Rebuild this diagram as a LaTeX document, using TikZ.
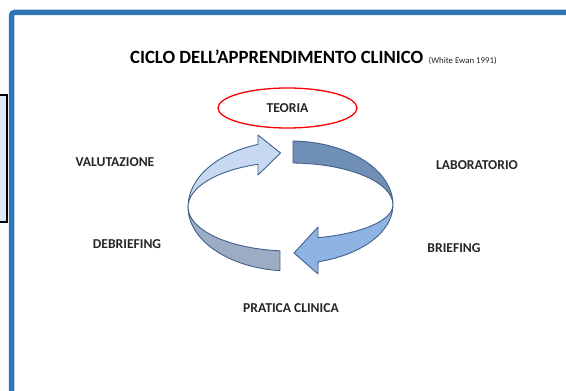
\documentclass[tikz,border=0pt]{standalone}
\usepackage{fontspec}
\setmainfont{Carlito}
\usetikzlibrary{shapes.geometric}
\definecolor{frameblue}{HTML}{2E75B6}
\definecolor{boxfill}{HTML}{DEEBF7}
\definecolor{edgeblue}{HTML}{41618C}
\definecolor{lightpiece}{HTML}{C6D9F1}
\definecolor{darkpiece}{HTML}{6F8FB6}
\definecolor{bluepiece}{HTML}{8EB4E3}
\definecolor{graypiece}{HTML}{9CACC2}
\definecolor{labelgray}{HTML}{262626}
\tikzset{
  lbl/.style={font=\fontsize{13.6}{15}\selectfont\bfseries, text=labelgray, inner sep=0pt},
  piece/.style={draw=edgeblue, line width=0.9pt, line join=round},
}
\begin{document}
\begin{tikzpicture}[x=1pt,y=1pt]
\useasboundingbox (0,0) rectangle (566,391);
\clip (0,0) rectangle (566,391);
\fill[white] (0,0) rectangle (566,391);
% side box at left edge
\draw[black, line width=1.4pt, fill=boxfill] (-10,296) rectangle (7,169);
% blue frame
\draw[frameblue, line width=5.5pt, rounded corners=3pt] (11.5,-10) -- (11.5,378.5) -- (580,378.5);
% title
\node[inner sep=0pt, anchor=base west, font=\fontsize{18.7}{20}\selectfont\bfseries] (title) at (130,327) {CICLO DELL’APPRENDIMENTO CLINICO};
\node[inner sep=0pt, anchor=base west, font=\fontsize{8.8}{10}\selectfont, text=labelgray] (ref) at ([xshift=5pt]title.base east) {(White Ewan 1991)};
% TEORIA ellipse
\node[draw=red, line width=1.3pt, ellipse, minimum width=139pt, minimum height=40pt, inner sep=0pt, lbl] (teoria) at (287.5,283) {TEORIA};
% ring pieces
\draw[piece, fill=graypiece] (188,184) arc[start angle=180, end angle=264.1, x radius=102.5, y radius=64]
  -- (280,140.2) arc[start angle=264.1, end angle=180, x radius=102.5, y radius=44] -- cycle;
\draw[piece, fill=darkpiece] (293,250) arc[start angle=88.6, end angle=0, x radius=102.5, y radius=64]
  arc[start angle=0, end angle=88.6, x radius=102.5, y radius=42] -- cycle;
\draw[piece, fill=lightpiece] (188,184) arc[start angle=180, end angle=108.5, x radius=102.5, y radius=66]
  -- (258,256) -- (280.5,238) -- (258,216) -- (258,226.7)
  arc[start angle=108.5, end angle=180, x radius=102.5, y radius=45] -- cycle;
\draw[piece, fill=bluepiece] (393,186) arc[start angle=0, end angle=-74.4, x radius=102.5, y radius=59]
  -- (318,117) -- (294,138) -- (318,164) -- (318,153.3)
  arc[start angle=-74.4, end angle=0, x radius=102.5, y radius=34] -- cycle;
% labels
\node[lbl] (valutazione) at (115,229) {VALUTAZIONE};
\node[lbl] (laboratorio) at (477,226) {LABORATORIO};
\node[lbl] (debriefing) at (127,147) {DEBRIEFING};
\node[lbl] (briefing) at (454,143) {BRIEFING};
\node[lbl] (pratica) at (291,83) {PRATICA CLINICA};
\end{tikzpicture}
\end{document}
